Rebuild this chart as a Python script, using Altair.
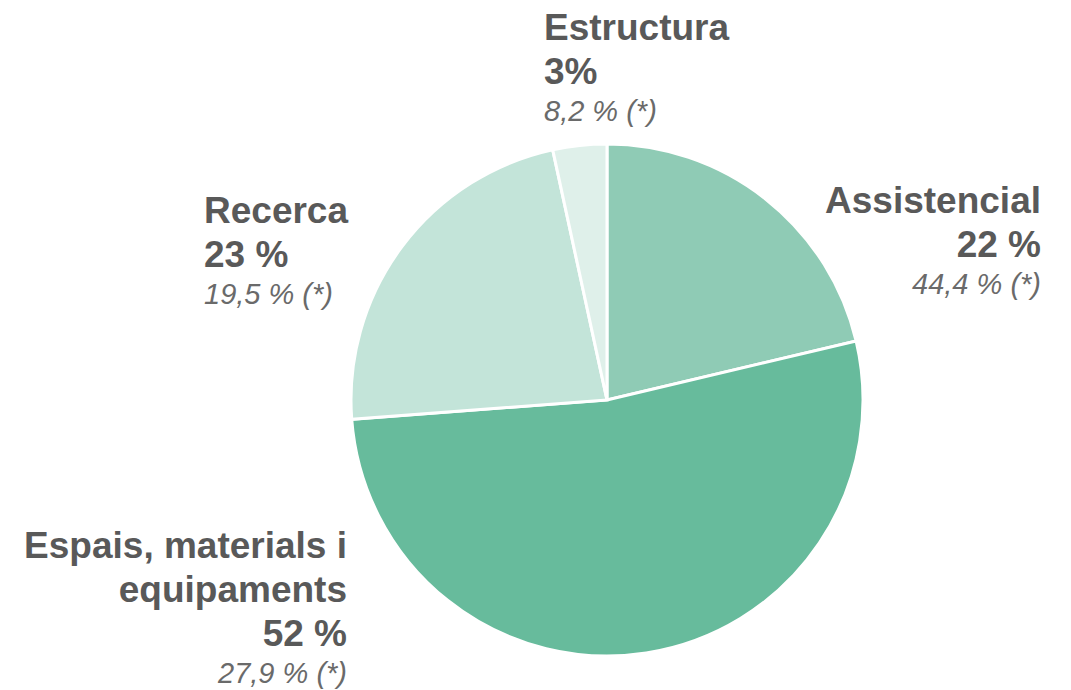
import altair as alt
import pandas as pd

# Data
categories = ["Assistencial", "Espais, materials i equipaments", "Recerca", "Estructura"]
values = [21.3, 52.5, 22.8, 3.4]
pct_labels = ["22 %", "52 %", "23 %", "3%"]
ref_labels = ["44,4 % (*)", "27,9 % (*)", "19,5 % (*)", "8,2 % (*)"]
colors = ["#8fcbb5", "#67bb9c", "#c3e4d9", "#dff0ea"]

pie_df = pd.DataFrame({"cat": categories, "val": values, "ord": list(range(len(categories)))})

# Label layout (view pixel coords: anchor x, baselines for each line)
name_lines = [["Assistencial"], ["Espais, materials i", "equipaments"], ["Recerca"], ["Estructura"]]
anchor_x = [1033, 339, 196, 536]
aligns = ["right", "right", "left", "left"]
first_base = [205, 550, 215, 32]
line_gap = 44
italic_gap = 37

rows = []
for i in range(len(categories)):
    y = first_base[i]
    for ln in name_lines[i]:
        rows.append({"x": anchor_x[i], "y": y, "t": ln, "kind": "bold", "al": aligns[i]})
        y += line_gap
    rows.append({"x": anchor_x[i], "y": y, "t": pct_labels[i], "kind": "bold", "al": aligns[i]})
    y += italic_gap
    rows.append({"x": anchor_x[i], "y": y, "t": ref_labels[i], "kind": "italic", "al": aligns[i]})
lab_df = pd.DataFrame(rows)

CX, CY, R = 599, 392, 256

pie = alt.Chart(pie_df).mark_arc(outerRadius=R, stroke="white", strokeWidth=3).encode(
    theta=alt.Theta("val:Q", stack=True),
    order=alt.Order("ord:Q"),
    color=alt.Color("cat:N", scale=alt.Scale(domain=categories, range=colors), legend=None),
    x=alt.value(CX),
    y=alt.value(CY),
)

def text_layer(kind, align, **kw):
    d = lab_df[(lab_df.kind == kind) & (lab_df.al == align)]
    return alt.Chart(d).mark_text(align=align, baseline="alphabetic", font="Liberation Sans", **kw).encode(
        x=alt.X("x:Q", scale=None, axis=None),
        y=alt.Y("y:Q", scale=None, axis=None),
        text="t:N",
    )

layers = [pie]
for al in ["left", "right"]:
    layers.append(text_layer("bold", al, fontSize=37, fontWeight="bold", color="#595959"))
    layers.append(text_layer("italic", al, fontSize=29, fontStyle="italic", color="#6a6a6a"))

chart = alt.layer(*layers).properties(
    width=1055, height=682, padding=0, autosize=alt.AutoSizeParams(type="none")
).configure_view(stroke=None)

chart.save("out.html", embed_options={"renderer": "svg", "actions": False})
